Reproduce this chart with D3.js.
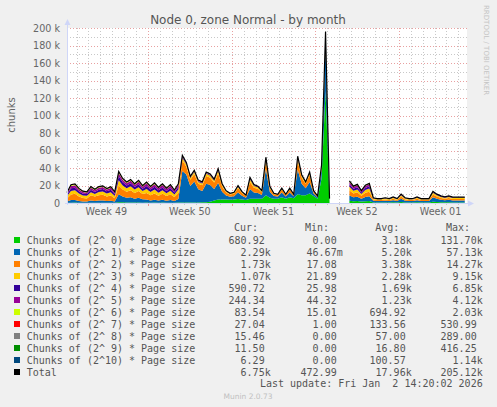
<!DOCTYPE html>
<html>
<head>
<meta charset="utf-8">
<script src="https://cdn.jsdelivr.net/npm/d3@7"></script>
<style>
body { margin: 0; padding: 0; background: #F0F0F0; }
svg  { display: block; }
text { white-space: pre; }
</style>
</head>
<body>
<script>
// ---- data (values in k, one sample every 8 hours) ----
var startTime = Date.UTC(2025, 11, 1, 4, 50);   // left edge of the graph
var endTime   = Date.UTC(2026, 0, 3, 17, 20);   // right edge
var stepHours = 8;

var seriesNames = [
  "Chunks of (2^ 0) * Page size", "Chunks of (2^ 1) * Page size",
  "Chunks of (2^ 2) * Page size", "Chunks of (2^ 3) * Page size",
  "Chunks of (2^ 4) * Page size", "Chunks of (2^ 5) * Page size",
  "Chunks of (2^ 6) * Page size", "Chunks of (2^ 7) * Page size",
  "Chunks of (2^ 8) * Page size", "Chunks of (2^ 9) * Page size",
  "Chunks of (2^10) * Page size"
];
var seriesColors = ["#00CC00", "#0066B3", "#FF8000", "#FFCC00", "#330099", "#990099",
                    "#CCFF00", "#FF0000", "#808080", "#008F00", "#00487D"];

var g0 = [0.2,0.3,0.5,0.3,0.2,0.2,0.3,0.3,0.4,0.4,0.3,0.3,0.2,
  1,0.8,0.6,0.7,0.5,0.6,0.4,
  0.5,0.4,0.5,0.4,0.5,0.3,0.4,0.3,0.5,
  0.5,0.5,0.5,0.6,0.6,0.8,1,1.5,3,4,4,4,3.8,4,4.5,4,3.5,
  5,5,5,5,9,6,5,5,6.5,5,6.5,5.5,10,9,9,11,8,5,28,128,3,
  null,null,null,null,
  2.5,2,2.2,1.8,2,2.2,
  0.6,0.5,0.5,0.6,0.5,0.8,0.5,1.2,0.6,0.5,0.5,0.8,0.5,0.5,0.5,1.5,1.2,0.9,0.8,0.9,0.7,0.7,0.7,0.7];
var g1 = [1.5,3,3,2,1.5,1.5,2.5,2,2.5,2.6,2,2.4,1.5,
  9,6.5,5.5,6,4.5,5.5,4,
  3.5,2.5,3.3,2.4,3.2,2.3,3,2,4,
  36,32,19,24,15,13,21,19,13,19,9,4.5,3.3,3.8,7.5,4.2,2.5,
  11,7,6.5,4.2,30,6.5,3,2.5,5.5,2.5,5.5,2.2,28,13,8,13,3,1.5,10,52,1,
  null,null,null,null,
  6,4.5,5,3.2,4.8,5.5,
  2,1.7,1.7,2,1.7,2.4,1.7,3.6,2,1.7,1.8,2.4,1.7,1.7,1.7,5,3.6,2.8,2.4,2.8,2.3,2.3,2.3,2.3];
var g2 = [3.5,6.5,7,5,4,3.5,6,5,6,6.4,5.2,6,3.8,
  10,8,6.8,7.8,6.5,7.6,5.8,
  7.5,6,7.2,5.6,6.8,5.3,6.6,4.6,6.8,
  12,9,7,8.5,6.5,6.5,9,8.5,7.5,11,6,3.5,2.6,2.9,5.2,3.2,2,
  8,5.5,4.8,3.2,9,4.5,2,1.6,3.3,1.6,3.3,1.4,10,7,5,8,2,0.9,3.5,9,0.6,
  null,null,null,null,
  6,4.5,5,3.2,4.8,5.3,
  1.5,1.3,1.3,1.5,1.3,1.7,1.3,2.5,1.5,1.3,1.3,1.7,1.3,1.3,1.3,3.2,2.5,2,1.7,2,1.7,1.7,1.7,1.7];
var g3 = [2.5,4,4,3.5,3,3,3.5,3,3.6,3.8,3.3,3.6,2.6,
  6,4.8,4,4.6,3.8,4.4,3.4,
  4.5,3.6,4.3,3.4,4.1,3.2,3.9,2.9,4,
  3,2.5,2,2.2,2,2,2.3,2.2,2,3,1.8,1.2,0.8,0.9,1.5,1,0.6,
  3,2,1.7,1.1,2.5,1.4,0.6,0.5,1,0.5,1,0.5,3,2,1.3,2,0.6,0.3,1,3,0.2,
  null,null,null,null,
  4,3,3.3,2.2,3.2,3.5,
  1,0.8,0.8,1,0.8,1.1,0.8,1.5,1,0.8,0.8,1.1,0.8,0.8,0.8,1.9,1.5,1.3,1.1,1.3,1.1,1.1,1.1,1.1];
var g4 = [1.8,3,3,2.5,2,2,2.8,2.3,2.7,2.8,2.5,2.8,2,
  4.5,3.6,3.2,3.5,3,3.4,2.8,
  3.5,2.8,3.3,2.7,3.2,2.6,3,2.2,3,
  1.2,1,0.8,0.9,0.9,0.8,0.9,0.9,0.8,1,0.6,0.4,0.3,0.3,0.6,0.3,0.2,
  1,0.7,0.5,0.3,0.6,0.3,0.2,0.2,0.3,0.2,0.3,0.2,1,0.5,0.3,0.5,0.2,0.1,0.3,1,0.1,
  null,null,null,null,
  3,2.3,2.5,1.6,2.4,2.6,
  0.5,0.4,0.4,0.5,0.4,0.6,0.4,0.8,0.5,0.4,0.4,0.6,0.4,0.4,0.4,1,0.8,0.7,0.6,0.7,0.6,0.6,0.6,0.6];
var g5 = [1.5,2.6,2.8,2.2,1.8,1.6,2.4,2,2.3,2.4,2.1,2.3,1.7,
  3.5,2.8,2.5,2.8,2.4,2.8,2.2,
  3,2.4,2.9,2.3,2.8,2.2,2.7,1.9,2.5,
  0.6,0.5,0.4,0.5,0.5,0.5,0.5,0.5,0.4,0.5,0.3,0.2,0.1,0.1,0.3,0.1,0.1,
  0.6,0.4,0.3,0.15,0.3,0.15,0.1,0.1,0.15,0.1,0.15,0.1,0.5,0.3,0.2,0.3,0.1,0.05,0.1,0.4,0.05,
  null,null,null,null,
  2.5,2,2.2,1.4,2.1,2.2,
  0.22,0.2,0.2,0.22,0.2,0.25,0.2,0.3,0.22,0.2,0.2,0.25,0.2,0.2,0.2,0.4,0.3,0.27,0.25,0.27,0.25,0.25,0.25,0.24];
var g6 = [0.6,1,1,0.8,0.7,0.6,0.8,0.7,0.8,0.8,0.8,0.8,0.6,
  1.2,1,0.9,1,0.8,1,0.8,
  1,0.8,1,0.7,0.9,0.6,0.9,0.6,0.8,
  0.3,0.2,0.2,0.2,0.2,0.2,0.2,0.2,0.2,0.2,0.1,0.1,0.1,0.1,0.1,0.1,0.05,
  0.3,0.2,0.1,0.05,0.2,0.05,0.05,0.05,0.05,0.05,0.05,0.05,0.2,0.1,0.1,0.1,0.05,0.02,0.05,0.2,0.02,
  null,null,null,null,
  0.8,0.6,0.7,0.5,0.6,0.7,
  0.08,0.07,0.07,0.08,0.07,0.08,0.07,0.1,0.08,0.07,0.07,0.08,0.07,0.07,0.07,0.1,0.1,0.08,0.08,0.08,0.08,0.08,0.08,0.08];
var g7 = [0.2,0.3,0.3,0.25,0.2,0.2,0.25,0.2,0.25,0.25,0.2,0.25,0.2,
  0.4,0.3,0.3,0.3,0.25,0.3,0.25,
  0.3,0.25,0.3,0.25,0.3,0.2,0.3,0.2,0.25,
  0.15,0.1,0.1,0.1,0.1,0.1,0.1,0.1,0.08,0.1,0.06,0.04,0.03,0.03,0.05,0.03,0.02,
  0.1,0.06,0.05,0.03,0.1,0.04,0.02,0.02,0.03,0.02,0.03,0.02,0.1,0.06,0.04,0.06,0.02,0.01,0.05,0.5,0.01,
  null,null,null,null,
  0.25,0.2,0.2,0.15,0.2,0.2,
  0.03,0.02,0.02,0.03,0.02,0.03,0.02,0.04,0.03,0.02,0.02,0.03,0.02,0.02,0.02,0.05,0.04,0.03,0.03,0.03,0.03,0.03,0.03,0.03];
var g8 = [0.08,0.1,0.1,0.09,0.08,0.08,0.1,0.09,0.1,0.1,0.09,0.1,0.08,
  0.12,0.1,0.1,0.1,0.09,0.1,0.09,
  0.1,0.09,0.1,0.09,0.1,0.08,0.1,0.08,0.09,
  0.08,0.07,0.05,0.06,0.05,0.05,0.06,0.06,0.05,0.06,0.04,0.03,0.02,0.02,0.04,0.02,0.02,
  0.05,0.04,0.03,0.02,0.08,0.03,0.02,0.02,0.03,0.02,0.03,0.02,0.08,0.05,0.04,0.05,0.02,0.01,0.04,0.29,0.01,
  null,null,null,null,
  0.08,0.06,0.07,0.05,0.06,0.07,
  0.02,0.015,0.015,0.02,0.015,0.02,0.015,0.03,0.02,0.015,0.015,0.02,0.015,0.015,0.015,0.03,0.03,0.02,0.02,0.02,0.016,0.016,0.016,0.015];
var g9 = [0.01,0.02,0.02,0.01,0.01,0.01,0.02,0.01,0.02,0.02,0.01,0.02,0.01,
  0.03,0.02,0.02,0.02,0.01,0.02,0.01,
  0.02,0.01,0.02,0.01,0.02,0.01,0.02,0.01,0.02,
  0.05,0.04,0.02,0.03,0.02,0.02,0.03,0.03,0.02,0.03,0.02,0.01,0.01,0.01,0.02,0.01,0.01,
  0.03,0.02,0.02,0.01,0.06,0.02,0.01,0.01,0.02,0.01,0.02,0.01,0.06,0.03,0.02,0.03,0.01,0.01,0.05,0.42,0,
  null,null,null,null,
  0.02,0.02,0.02,0.01,0.02,0.02,
  0.01,0.01,0.01,0.01,0.01,0.01,0.01,0.02,0.01,0.01,0.01,0.01,0.01,0.01,0.01,0.02,0.02,0.01,0.01,0.01,0.012,0.012,0.012,0.0115];
var g10 = [0.05,0.08,0.08,0.06,0.05,0.05,0.07,0.06,0.07,0.07,0.06,0.07,0.05,
  0.2,0.15,0.12,0.14,0.1,0.12,0.09,
  0.1,0.08,0.1,0.08,0.1,0.07,0.09,0.06,0.1,
  0.6,0.5,0.3,0.4,0.25,0.2,0.35,0.3,0.2,0.35,0.15,0.08,0.05,0.06,0.12,0.07,0.04,
  0.2,0.12,0.1,0.06,0.5,0.1,0.05,0.04,0.08,0.04,0.08,0.04,0.5,0.25,0.15,0.25,0.05,0.02,0.2,1.14,0.01,
  null,null,null,null,
  0.1,0.08,0.09,0.06,0.08,0.09,
  0.01,0.006,0.006,0.008,0.006,0.01,0.006,0.015,0.008,0.006,0.006,0.01,0.006,0.006,0.006,0.02,0.015,0.01,0.008,0.01,0.007,0.007,0.007,0.0063];

var seriesValues = [g0, g1, g2, g3, g4, g5, g6, g7, g8, g9, g10];

var yTicks      = [0, 20, 40, 60, 80, 100, 120, 140, 160, 180, 200];
var yTickLabels = ["0", "20 k", "40 k", "60 k", "80 k", "100 k", "120 k", "140 k", "160 k", "180 k", "200 k"];
var weekStarts  = ["2025-12-01", "2025-12-08", "2025-12-15", "2025-12-22", "2025-12-29"];
var weekLabels  = ["Week 49", "Week 50", "Week 51", "Week 52", "Week 01"];

var legendCur = ["680.92", "2.29k", "1.73k", "1.07k", "590.72", "244.34", "83.54", "27.04", "15.46", "11.50", "6.29", "6.75k"];
var legendMin = ["0.00", "46.67m", "17.08", "21.89", "25.98", "44.32", "15.01", "1.00", "0.00", "0.00", "0.00", "472.99"];
var legendAvg = ["3.18k", "5.20k", "3.38k", "2.28k", "1.69k", "1.23k", "694.92", "133.56", "57.00", "16.80", "100.57", "17.96k"];
var legendMax = ["131.70k", "57.13k", "14.27k", "9.15k", "6.85k", "4.12k", "2.03k", "530.99", "289.00", "416.25", "1.14k", "205.12k"];

// ---- layout ----
var W = 497, H = 407;
var gl = 67, gr = 467, gt = 28, gb = 203;
var sans = "'DejaVu Sans', Verdana, sans-serif";
var mono = "'DejaVu Sans Mono', monospace";

var svg = d3.select("body").append("svg").attr("width", W).attr("height", H);
svg.append("rect").attr("width", W).attr("height", H).attr("fill", "#F0F0F0");

var x = d3.scaleUtc().domain([new Date(startTime), new Date(endTime)]).range([gl, gr]);
var y = d3.scaleLinear().domain([0, 200]).range([gb, gt]);

// rows for stacking
var keys = seriesNames.map(function (d, i) { return "s" + i; });
var rows = g0.map(function (v, i) {
  var r = { t: new Date(startTime + i * stepHours * 3600000) };
  var tot = 0;
  seriesValues.forEach(function (arr, k) {
    r["s" + k] = arr[i];
    tot = (arr[i] == null || tot == null) ? null : tot + arr[i];
  });
  r.total = tot;
  return r;
});

// canvas
svg.append("rect").attr("x", gl).attr("y", gt).attr("width", gr - gl).attr("height", gb - gt).attr("fill", "#FFFFFF");

// grid
var grid = svg.append("g").attr("shape-rendering", "crispEdges");
d3.range(10, 200, 20).forEach(function (v) {
  grid.append("line").attr("x1", gl).attr("x2", gr).attr("y1", Math.round(y(v)) + 0.5).attr("y2", Math.round(y(v)) + 0.5)
    .attr("stroke", "#C8C8C8").attr("stroke-dasharray", "1,2");
});
yTicks.slice(1).forEach(function (v) {
  grid.append("line").attr("x1", gl).attr("x2", gr).attr("y1", Math.round(y(v)) + 0.5).attr("y2", Math.round(y(v)) + 0.5)
    .attr("stroke", "#E8A0A0").attr("stroke-dasharray", "1,2");
});
var days = d3.utcDay.range(x.domain()[0], x.domain()[1]).filter(function (d) { return d.getUTCDay() !== 1; });
days.forEach(function (d) {
  var px = Math.round(x(d)) + 0.5;
  grid.append("line").attr("x1", px).attr("x2", px).attr("y1", gt).attr("y2", gb).attr("stroke", "#C8C8C8").attr("stroke-dasharray", "1,2");
  grid.append("line").attr("x1", px).attr("x2", px).attr("y1", gb).attr("y2", gb + 2).attr("stroke", "#C8C8C8");
});
var mondays = d3.utcMonday.range(x.domain()[0], x.domain()[1]);
mondays.forEach(function (d) {
  var px = Math.round(x(d)) + 0.5;
  grid.append("line").attr("x1", px).attr("x2", px).attr("y1", gt).attr("y2", gb).attr("stroke", "#E8A0A0").attr("stroke-dasharray", "1,2");
  grid.append("line").attr("x1", px).attr("x2", px).attr("y1", gb).attr("y2", gb + 3).attr("stroke", "#E89090");
});

// stacked areas
var stack = d3.stack().keys(keys).value(function (d, k) { return d[k] == null ? NaN : d[k]; });
var layers = stack(rows);
var area = d3.area()
  .defined(function (d) { return !isNaN(d[1]); })
  .x(function (d) { return x(d.data.t); })
  .y0(function (d) { return y(d[0]); })
  .y1(function (d) { return y(d[1]); });
svg.append("g").selectAll("path").data(layers).join("path")
  .attr("d", area)
  .attr("fill", function (d, i) { return seriesColors[i]; });

// total line
var line = d3.line()
  .defined(function (d) { return d.total != null; })
  .x(function (d) { return x(d.t); })
  .y(function (d) { return y(d.total); });
svg.append("path").datum(rows).attr("d", line).attr("fill", "none").attr("stroke", "#000").attr("stroke-width", 1.2);

// axes
var axisCol = "#CFD6F8";
svg.append("line").attr("x1", gl + 0.5).attr("x2", gl + 0.5).attr("y1", gb + 2).attr("y2", gt - 4).attr("stroke", axisCol);
svg.append("line").attr("x1", gl - 2).attr("x2", gr + 2).attr("y1", gb + 0.5).attr("y2", gb + 0.5).attr("stroke", axisCol);
svg.append("path").attr("d", "M" + (gl - 2.5) + "," + (gt - 3) + "L" + (gl + 0.5) + "," + (gt - 9) + "L" + (gl + 3.5) + "," + (gt - 3) + "Z").attr("fill", axisCol);
svg.append("path").attr("d", "M" + (gr + 1) + "," + (gb - 2.5) + "L" + (gr + 7) + "," + (gb + 0.5) + "L" + (gr + 1) + "," + (gb + 3.5) + "Z").attr("fill", axisCol);

// tick labels
yTicks.forEach(function (v, i) {
  svg.append("text").attr("x", 60).attr("y", y(v) + 3.5).attr("text-anchor", "end")
    .attr("font-family", sans).attr("font-size", "9.6px").attr("fill", "#666").text(yTickLabels[i]);
});
weekStarts.forEach(function (s, i) {
  var mid = new Date(Date.parse(s + "T00:00:00Z") + 3.5 * 86400000);
  svg.append("text").attr("x", x(mid)).attr("y", 215).attr("text-anchor", "middle")
    .attr("font-family", sans).attr("font-size", "9.6px").attr("fill", "#666").text(weekLabels[i]);
});

// title, axis label, watermark
svg.append("text").attr("x", 248).attr("y", 24).attr("text-anchor", "middle")
  .attr("font-family", sans).attr("font-size", "12px").attr("fill", "#555").text("Node 0, zone Normal - by month");
svg.append("text").attr("transform", "translate(14.5,115) rotate(-90)").attr("text-anchor", "middle")
  .attr("font-family", sans).attr("font-size", "10px").attr("fill", "#666").text("chunks");
svg.append("text").attr("transform", "translate(484,5) rotate(90)").attr("text-anchor", "start")
  .attr("font-family", sans).attr("font-size", "7px").attr("fill", "#C4C4C4").text("RRDTOOL / TOBI OETIKER");

// legend
var lg = svg.append("g").attr("font-family", mono).attr("font-size", "10px").attr("fill", "#555");
var colRight = [270.7, 342.7, 411.7, 482.7];
var headRight = [258, 329, 399.3, 470];
["Cur:", "Min:", "Avg:", "Max:"].forEach(function (h, i) {
  lg.append("text").attr("x", headRight[i]).attr("y", 230.6).attr("text-anchor", "end").text(h);
});
var legendNames = seriesNames.concat(["Total"]);
var legendColors = seriesColors.concat(["#000000"]);
var cols = [legendCur, legendMin, legendAvg, legendMax];
legendNames.forEach(function (name, i) {
  var cy = 240 + i * 12;
  lg.append("rect").attr("x", 14).attr("y", cy - 3).attr("width", 6).attr("height", 6).attr("fill", legendColors[i]);
  lg.append("text").attr("x", 26.7).attr("y", cy + 3.6).text(name);
  cols.forEach(function (col, c) {
    var v = col[i];
    var hasUnit = /[a-z]$/.test(v);
    lg.append("text").attr("x", hasUnit ? colRight[c] : colRight[c] - 6.02).attr("y", cy + 3.6)
      .attr("text-anchor", "end").text(v);
  });
});
lg.append("text").attr("x", 482.7).attr("y", 387).attr("text-anchor", "end").text("Last update: Fri Jan  2 14:20:02 2026");
svg.append("text").attr("x", 248).attr("y", 398.5).attr("text-anchor", "middle")
  .attr("font-family", sans).attr("font-size", "7.5px").attr("fill", "#C0C0C0").text("Munin 2.0.73");
</script>
</body>
</html>
